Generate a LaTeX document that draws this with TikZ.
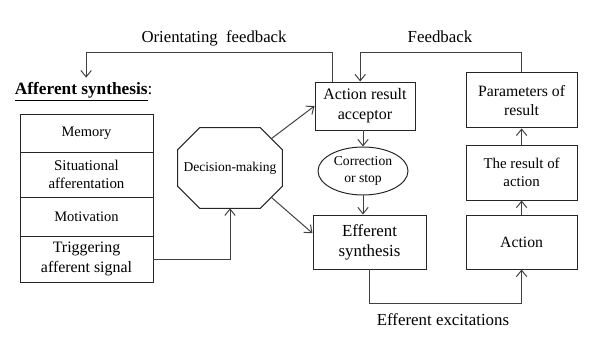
\documentclass[tikz,border=0pt]{standalone}
\usepackage{fontspec}
\setmainfont{Liberation Serif}
\usepackage{tikz}
\usetikzlibrary{arrows.meta, positioning, shapes.geometric, calc}

\begin{document}
\begin{tikzpicture}[
    % Global styles
    font=\fontsize{11.4}{14.2}\selectfont,
    >={Straight Barb[length=1.6mm, width=2.6mm]},
    % Box styles
    blockbox/.style={
      rectangle, draw=black!85, fill=white,
      minimum width=2.775cm, minimum height=1.35cm,
      align=center, line width=0.7pt, inner sep=1pt
    },
    stackbox/.style={
      rectangle, draw=black!85, minimum width=3.325cm,
      align=center, line width=0.7pt, outer sep=0pt, inner sep=1pt
    },
    ovalbox/.style={
      ellipse, draw=black!85, minimum width=2.25cm, minimum height=1.2cm,
      align=center, line width=0.7pt, inner sep=0pt
    },
    boxline/.style={draw=black!85, line width=0.7pt},
    labeltext/.style={font=\fontsize{12}{14}\selectfont},
    arr/.style={->, draw=black!75, line width=0.7pt},
  ]

  \useasboundingbox (0,0) rectangle (15.175,8.65);

  % ====================================================================
  % LEFT SIDE — Afferent synthesis
  % ====================================================================
  \node[anchor=west, font=\fontsize{12.3}{14}\selectfont] (heading) at (0.25,6.35)
    {\underline{\textbf{Afferent synthesis}}:};

  \node[stackbox, minimum height=0.95cm, font=\fontsize{10.3}{12.5}\selectfont] (mem) at (2.1625,5.325) {Memory};
  \node[stackbox, below=0pt of mem, minimum height=1.125cm, font=\fontsize{10.6}{12.8}\selectfont] (sit) {Situational\\afferentation};
  \node[stackbox, below=0pt of sit, minimum height=0.975cm, font=\fontsize{10.3}{12.5}\selectfont] (mot) {Motivation};
  \node[stackbox, below=0pt of mot, minimum height=1.15cm, font=\fontsize{11.3}{14.2}\selectfont] (trig) {Triggering\\afferent signal};

  % Decision (octagon drawn round the node)
  \node[minimum width=2.6cm, minimum height=2cm, font=\fontsize{9.6}{12}\selectfont] (decide) at (5.75,4.45) {Decision-making};
  \draw[boxline] ($(decide.north west)+(0.55,0)$) -- ($(decide.north east)+(-0.55,0)$)
    -- ($(decide.north east)+(0,-0.55)$) -- ($(decide.south east)+(0,0.55)$)
    -- ($(decide.south east)+(-0.55,0)$) -- ($(decide.south west)+(0.55,0)$)
    -- ($(decide.south west)+(0,0.55)$) -- ($(decide.north west)+(0,-0.55)$) -- cycle;

  % ====================================================================
  % RIGHT SIDE — Acceptor and action
  % ====================================================================
  \node[blockbox, minimum width=2.5cm, minimum height=1.2cm] (acceptor) at (9.125,6.0) {Action result\\acceptor};
  \node[ovalbox, font=\fontsize{9.7}{12}\selectfont] (corr) at (9.075,4.375) {Correction\\or stop};
  \node[blockbox, minimum width=2.825cm, font=\fontsize{12}{14.2}\selectfont] (efferent) at (9.2375,2.6) {Efferent\\synthesis};

  \node[blockbox, minimum height=1.375cm, font=\fontsize{11.2}{13.5}\selectfont] (params) at (13.04,6.14) {Parameters of\\result};
  \node[blockbox, minimum height=1.375cm, font=\fontsize{10.6}{12.8}\selectfont] (result) at (13.04,4.3375) {The result of\\action};
  \node[blockbox, font=\fontsize{11.2}{13.5}\selectfont] (action) at (13.04,2.6) {Action};

  % Labels
  \node[font=\fontsize{11.9}{14}\selectfont] (orientlabel) at (5.35,7.7) {Orientating~ feedback};
  \node[labeltext] (fblabel) at (11.0,7.725) {Feedback};
  \node[labeltext] (excitelabel) at (11.075,0.65) {Efferent excitations};

  % ------- Arrows -------
  \draw[arr] (trig.east) -| (decide.south);
  \draw[arr] ($(decide.north east)+(-0.275,-0.275)$) -- (acceptor.west);
  \draw[arr] ($(decide.south east)+(-0.275,0.275)$) -- ($(efferent.west)+(0,0.22)$);

  \draw[arr] (acceptor.south -| corr.north) -- (corr.north);
  \draw[arr] (corr.south) -- (corr.south |- efferent.north);

  \draw[arr] (efferent.south) -- ++(0,-0.85) -| (action.south);
  \draw[arr] (action) -- (result);
  \draw[arr] (result) -- (params);

  % Feedback loops
  \draw[arr] (params.north) -- ++(0,0.5) -| ($(acceptor.north)+(-0.12,0)$);
  \draw[arr] ($(acceptor.north west)+(0.45,0)$) -- ++(0,0.73) -| ($(heading.north)+(0.06,0)$);

\end{tikzpicture}
\end{document}
